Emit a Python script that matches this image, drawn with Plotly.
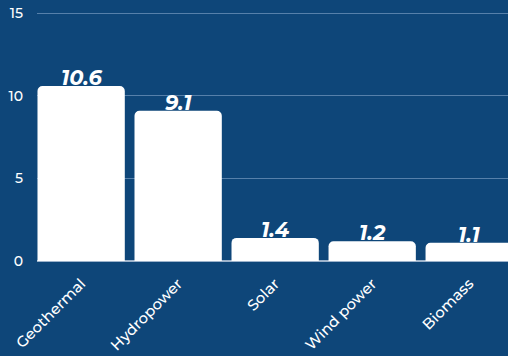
import plotly.graph_objects as go

categories = ["Geothermal", "Hydropower", "Solar", "Wind power", "Biomass"]
values = [10.6, 9.1, 1.4, 1.2, 1.1]
y_ticks = [0, 5, 10, 15]

BG = "#0E4679"
FONT = "Montserrat, Open Sans, sans-serif"

fig = go.Figure(
    go.Bar(
        x=categories,
        y=values,
        width=0.9,
        marker=dict(color="white", line=dict(width=0), cornerradius=5),
        hoverinfo="skip",
    )
)

# value labels resting on top of each bar
for cat, val in zip(categories, values):
    fig.add_annotation(
        x=cat,
        y=val,
        text=f"<b><i>{val:.1f}</i></b>",
        showarrow=False,
        yanchor="bottom",
        yshift=-6,
        font=dict(color="white", size=21, family=FONT),
    )

fig.update_layout(
    width=508,
    height=356,
    margin=dict(l=37, r=0, t=12, b=95),
    paper_bgcolor=BG,
    plot_bgcolor=BG,
    showlegend=False,
    font=dict(family=FONT, color="white", size=14),
    xaxis=dict(
        type="category",
        range=[-0.455, 4.4],
        tickangle=-45,
        showgrid=False,
        showline=False,
        ticks="",
        ticklabelstandoff=10,
        tickfont=dict(size=15, color="white", weight=500),
    ),
    yaxis=dict(
        range=[0, 15.08],
        tickvals=y_ticks,
        showgrid=True,
        gridcolor="#5680AA",
        gridwidth=1,
        zeroline=True,
        zerolinecolor="#9DB3CB",
        zerolinewidth=1.5,
        ticks="",
        ticklabelstandoff=13,
        tickfont=dict(size=14, color="white", weight=500),
    ),
)

fig.write_html("out.html")
